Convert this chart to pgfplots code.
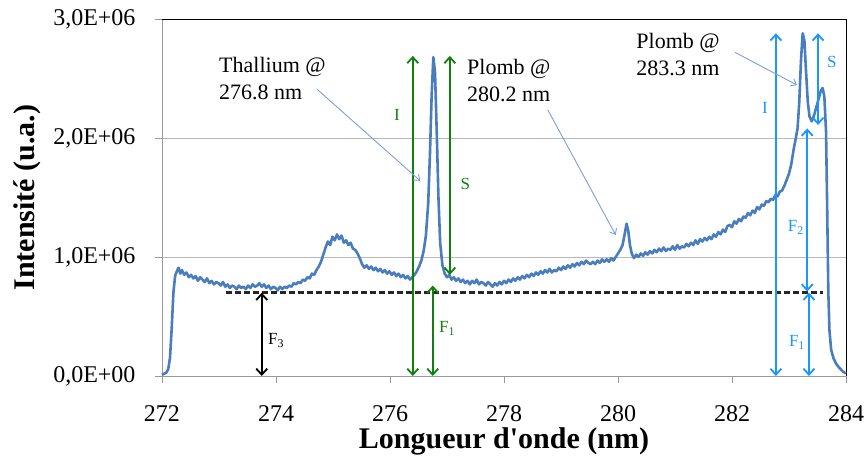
\documentclass[border=0pt]{standalone}
\usepackage{fontspec}
\setmainfont{Liberation Serif}
\usepackage{pgfplots}
\pgfplotsset{compat=1.18}
\usetikzlibrary{arrows.meta}
\definecolor{specblue}{RGB}{74,125,190}
\definecolor{dgreen}{RGB}{16,128,16}
\definecolor{lblue}{RGB}{25,150,255}
\definecolor{annot}{RGB}{125,160,210}
\begin{document}
\begin{tikzpicture}[x=1pt,y=1pt]
\useasboundingbox (0,0) rectangle (865,460);
\begin{axis}[
  at={(162pt,84pt)}, anchor=south west,
  scale only axis, width=684pt, height=357pt,
  xmin=272, xmax=284, ymin=0, ymax=3,
  xtick={272,274,276,278,280,282,284},
  xticklabels={272,274,276,278,280,282,284},
  ytick={0,1,2,3},
  yticklabels={{0,0E+00},{1,0E+06},{2,0E+06},{3,0E+06}},
  ymajorgrids, grid style={gray!55, line width=0.8pt},
  axis line style={draw=none},
  tick align=outside, xtick pos=bottom, ytick pos=left,
  major tick length=7pt, tick style={gray!80, line width=0.8pt},
  xticklabel style={font=\fontsize{24}{24}\selectfont, anchor=base, yshift=-39pt},
  yticklabel style={font=\fontsize{24}{24}\selectfont, anchor=east, xshift=-16pt},
  xlabel={\textbf{Longueur d\textquotesingle onde (nm)}},
  ylabel={\textbf{Intensité (u.a.)}},
  xlabel style={font=\fontsize{30}{30}\selectfont, at={(rel axis cs:0.5,0)}, anchor=base, yshift=-73pt},
  ylabel style={font=\fontsize{30}{30}\selectfont, at={(rel axis cs:0,0.5)}, anchor=center, yshift=135pt},
  clip=false,
]
\draw[gray!80, line width=0.8pt] (rel axis cs:0,1) -- (rel axis cs:0,0) -- (rel axis cs:1,0);
\draw[black, line width=0.9pt] (rel axis cs:0,1) -- (rel axis cs:1,1) -- (rel axis cs:1,0);
\addplot[specblue, line width=2.6pt, line join=round] coordinates {
(272.00,0.01) (272.04,0.02) (272.08,0.03) (272.11,0.06) (272.14,0.15) (272.17,0.40)
(272.20,0.70) (272.23,0.84) (272.26,0.88) (272.29,0.91) (272.32,0.86) (272.35,0.89)
(272.39,0.85) (272.43,0.87) (272.47,0.83) (272.51,0.85) (272.55,0.82) (272.59,0.84)
(272.63,0.80) (272.67,0.83) (272.71,0.81) (272.75,0.79) (272.79,0.82) (272.83,0.78)
(272.87,0.80) (272.91,0.77) (272.95,0.79) (272.99,0.78) (273.03,0.76) (273.07,0.79)
(273.11,0.75) (273.15,0.77) (273.19,0.74) (273.23,0.76) (273.27,0.75) (273.31,0.73)
(273.35,0.76) (273.39,0.74) (273.43,0.75) (273.47,0.73) (273.51,0.76) (273.55,0.74)
(273.59,0.77) (273.63,0.75) (273.67,0.76) (273.71,0.78) (273.75,0.75) (273.79,0.77)
(273.83,0.74) (273.87,0.76) (273.91,0.73) (273.95,0.75) (273.99,0.74) (274.03,0.72)
(274.07,0.75) (274.11,0.73) (274.15,0.75) (274.19,0.74) (274.23,0.76) (274.27,0.75)
(274.31,0.78) (274.35,0.77) (274.39,0.79) (274.43,0.78) (274.47,0.81) (274.51,0.80)
(274.55,0.83) (274.59,0.82) (274.63,0.86) (274.67,0.85) (274.71,0.89) (274.75,0.92)
(274.79,0.96) (274.83,1.02) (274.87,1.08) (274.91,1.13) (274.95,1.10) (274.99,1.17)
(275.03,1.14) (275.07,1.19) (275.11,1.15) (275.15,1.18) (275.19,1.12) (275.23,1.14)
(275.27,1.10) (275.31,1.12) (275.35,1.07) (275.39,1.06) (275.43,1.03) (275.47,0.99)
(275.51,0.94) (275.55,0.91) (275.59,0.93) (275.63,0.90) (275.67,0.92) (275.71,0.89)
(275.75,0.91) (275.79,0.88) (275.83,0.90) (275.87,0.87) (275.91,0.89) (275.95,0.86)
(275.99,0.88) (276.03,0.85) (276.07,0.87) (276.11,0.84) (276.15,0.86) (276.19,0.83)
(276.23,0.85) (276.27,0.82) (276.31,0.84) (276.35,0.81) (276.39,0.83) (276.43,0.85)
(276.47,0.88) (276.51,0.92) (276.55,0.97) (276.59,1.05) (276.63,1.18) (276.67,1.45)
(276.70,1.85) (276.73,2.35) (276.76,2.68) (276.79,2.55) (276.82,2.05) (276.85,1.50)
(276.88,1.12) (276.92,0.93) (276.96,0.86) (277.00,0.83) (277.04,0.85) (277.08,0.81)
(277.12,0.83) (277.16,0.80) (277.20,0.82) (277.24,0.79) (277.28,0.81) (277.32,0.78)
(277.36,0.80) (277.40,0.77) (277.44,0.80) (277.48,0.78) (277.52,0.81) (277.56,0.77)
(277.60,0.79) (277.64,0.78) (277.68,0.76) (277.72,0.79) (277.76,0.77) (277.80,0.75)
(277.84,0.78) (277.88,0.76) (277.92,0.79) (277.96,0.77) (278.00,0.80) (278.04,0.78)
(278.08,0.81) (278.12,0.79) (278.16,0.82) (278.20,0.80) (278.24,0.83) (278.28,0.81)
(278.32,0.84) (278.36,0.82) (278.40,0.85) (278.44,0.83) (278.48,0.86) (278.52,0.84)
(278.56,0.87) (278.60,0.85) (278.64,0.88) (278.68,0.86) (278.72,0.89) (278.76,0.87)
(278.80,0.90) (278.84,0.87) (278.88,0.89) (278.92,0.88) (278.96,0.91) (279.00,0.89)
(279.04,0.92) (279.08,0.90) (279.12,0.93) (279.16,0.91) (279.20,0.94) (279.24,0.92)
(279.28,0.95) (279.32,0.93) (279.36,0.96) (279.40,0.94) (279.44,0.97) (279.48,0.95)
(279.52,0.94) (279.56,0.96) (279.60,0.94) (279.64,0.97) (279.68,0.95) (279.72,0.98)
(279.76,0.96) (279.80,0.98) (279.84,0.96) (279.88,0.99) (279.92,0.97) (279.96,1.00)
(280.00,1.03) (280.04,1.06) (280.08,1.10) (280.12,1.20) (280.15,1.28) (280.18,1.22)
(280.21,1.10) (280.24,1.03) (280.28,0.99) (280.32,1.02) (280.36,1.00) (280.40,1.03)
(280.44,1.01) (280.48,1.04) (280.52,1.02) (280.56,1.05) (280.60,1.03) (280.64,1.06)
(280.68,1.04) (280.72,1.07) (280.76,1.05) (280.80,1.08) (280.84,1.05) (280.88,1.07)
(280.92,1.06) (280.96,1.09) (281.00,1.06) (281.04,1.10) (281.08,1.07) (281.12,1.09)
(281.16,1.08) (281.20,1.11) (281.24,1.09) (281.28,1.12) (281.32,1.10) (281.36,1.14)
(281.40,1.11) (281.44,1.15) (281.48,1.13) (281.52,1.16) (281.56,1.14) (281.60,1.17)
(281.64,1.15) (281.68,1.19) (281.72,1.17) (281.76,1.21) (281.80,1.19) (281.84,1.23)
(281.88,1.21) (281.92,1.26) (281.96,1.27) (282.00,1.25) (282.04,1.30) (282.08,1.28)
(282.12,1.32) (282.16,1.30) (282.20,1.34) (282.24,1.33) (282.28,1.37) (282.32,1.35)
(282.36,1.39) (282.40,1.37) (282.44,1.42) (282.48,1.40) (282.52,1.44) (282.56,1.43)
(282.60,1.47) (282.64,1.46) (282.68,1.49) (282.72,1.48) (282.76,1.52) (282.80,1.51)
(282.84,1.55) (282.88,1.56) (282.92,1.60) (282.96,1.65) (283.00,1.70) (283.04,1.78)
(283.08,1.90) (283.12,2.00) (283.15,2.08) (283.18,2.30) (283.21,2.65) (283.24,2.88)
(283.27,2.82) (283.30,2.55) (283.33,2.30) (283.36,2.18) (283.40,2.14) (283.44,2.19)
(283.48,2.26) (283.52,2.33) (283.56,2.40) (283.59,2.42) (283.62,2.35) (283.65,2.05)
(283.67,1.40) (283.69,0.70) (283.71,0.38) (283.74,0.22) (283.78,0.15) (283.83,0.10)
(283.88,0.07) (283.94,0.04) (284.00,0.02)
};
% dashed baseline
\draw[black!85, line width=2.6pt, dash pattern=on 6pt off 3pt] (axis cs:273.12,0.70) -- (axis cs:283.60,0.70);
% arrows
\tikzset{dbl/.style={line width=1.8pt, {Straight Barb[length=6pt,width=11pt]}-{Straight Barb[length=6pt,width=11pt]}}}
\draw[dbl, black] (axis cs:273.75,0) -- (axis cs:273.75,0.70);
\node[font=\fontsize{17}{17}\selectfont, black] at (axis cs:274.0,0.30) {F\textsubscript{3}};
\draw[dbl, dgreen] (axis cs:276.40,0) -- (axis cs:276.40,2.69);
\node[font=\fontsize{17}{17}\selectfont, dgreen] at (axis cs:276.12,2.19) {I};
\draw[dbl, dgreen] (axis cs:277.05,0.85) -- (axis cs:277.05,2.69);
\node[font=\fontsize{17}{17}\selectfont, dgreen] at (axis cs:277.32,1.61) {S};
\draw[dbl, dgreen] (axis cs:276.75,0) -- (axis cs:276.75,0.76);
\node[font=\fontsize{17}{17}\selectfont, dgreen] at (axis cs:277.0,0.40) {F\textsubscript{1}};
\draw[dbl, lblue] (axis cs:282.77,0) -- (axis cs:282.77,2.88);
\node[font=\fontsize{17}{17}\selectfont, lblue] at (axis cs:282.58,2.25) {I};
\draw[dbl, lblue] (axis cs:283.51,2.11) -- (axis cs:283.51,2.88);
\node[font=\fontsize{17}{17}\selectfont, lblue] at (axis cs:283.75,2.64) {S};
\draw[dbl, lblue] (axis cs:283.32,0.71) -- (axis cs:283.32,2.08);
\node[font=\fontsize{17}{17}\selectfont, lblue] at (axis cs:283.12,1.25) {F\textsubscript{2}};
\draw[dbl, lblue] (axis cs:283.35,0) -- (axis cs:283.35,0.70);
\node[font=\fontsize{17}{17}\selectfont, lblue] at (axis cs:283.14,0.28) {F\textsubscript{1}};
% text annotations
\node[anchor=north west, inner sep=0pt, align=left, font=\fontsize{22}{27}\selectfont] at (axis cs:273.0,2.68) {Thallium @\\276.8 nm};
\draw[annot, line width=0.9pt, -{Straight Barb[length=5pt,width=8pt]}] (axis cs:274.72,2.41) -- (axis cs:276.53,1.64);
\node[anchor=north west, inner sep=0pt, align=left, font=\fontsize{22}{27}\selectfont] at (axis cs:277.35,2.66) {Plomb @\\280.2 nm};
\draw[annot, line width=0.9pt, -{Straight Barb[length=5pt,width=8pt]}] (axis cs:278.77,2.235) -- (axis cs:279.96,1.185);
\node[anchor=north west, inner sep=0pt, align=left, font=\fontsize{22}{27}\selectfont] at (axis cs:280.32,2.88) {Plomb @\\283.3 nm};
\draw[annot, line width=0.9pt, -{Straight Barb[length=5pt,width=8pt]}] (axis cs:282.05,2.72) -- (axis cs:283.14,2.445);
\end{axis}
\end{tikzpicture}
\end{document}
